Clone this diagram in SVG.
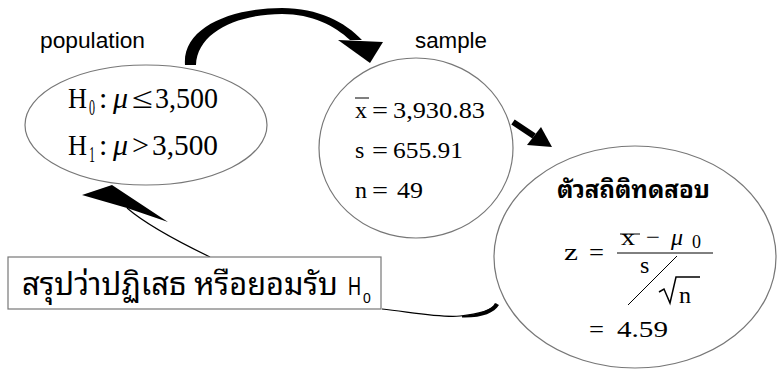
<svg xmlns="http://www.w3.org/2000/svg" width="779" height="371" viewBox="0 0 779 371">
<style>
.node{fill:#fff;stroke:#777;stroke-width:1.2}
.lab{font-family:"Liberation Sans",Arial,sans-serif;font-size:22px;fill:#000}
.m{font-family:"Liberation Serif","Times New Roman",serif;fill:#000}
.th{font-family:"Noto Sans Thai Looped","Loma","Garuda","Norasi","Tlwg Typo","Noto Serif Thai","Noto Sans Thai","Noto Sans",sans-serif;fill:#000}
.blk{fill:#000;stroke:none}
.thin{fill:none;stroke:#000;stroke-width:1.2}
</style>
<rect width="779" height="371" fill="#fff"/>
<g id="connectors">
  <path class="blk" d="M 185 65 C 182 28, 230 8, 282 8 C 318 8, 345 22, 362 40 L 350 40 C 335 26, 312 14, 282 14 C 238 14, 197 32, 196 65 Z"/>
  <polygon class="blk" points="338,40 383,42 370,63"/>
  <line x1="513" y1="122" x2="534" y2="136" stroke="#000" stroke-width="6"/>
  <polygon class="blk" points="527,145 541,127 552,147"/>
  <polygon class="blk" points="82,195 112,185 168,222 127,208"/>
  <path class="thin" d="M 127 208 Q 150 228 210 257"/>
  <path class="thin" d="M 382 309 C 410 312, 440 318, 460 316 C 480 314, 492 310, 497 304"/>
  <path class="blk" d="M 462 316 C 482 314, 492 309, 495 303 L 499 305 C 494 313, 482 318, 462 317.5 Z"/>
</g>
<g id="population">
  <text class="lab" x="40" y="48" textLength="105" lengthAdjust="spacingAndGlyphs">population</text>
  <ellipse class="node" cx="146" cy="125" rx="121" ry="60"/>
  <g class="m" font-size="30">
    <text x="68" y="108" textLength="19" lengthAdjust="spacingAndGlyphs">H</text>
    <text x="89" y="115" font-size="24" textLength="6" lengthAdjust="spacingAndGlyphs">0</text>
    <text x="99" y="108">:</text>
    <text x="113" y="108" font-style="italic">μ</text>
    <text x="132" y="108" textLength="21" lengthAdjust="spacingAndGlyphs">≤</text>
    <text x="155" y="108" textLength="63" lengthAdjust="spacingAndGlyphs">3,500</text>
    <text x="68" y="155" textLength="19" lengthAdjust="spacingAndGlyphs">H</text>
    <text x="89" y="162" font-size="24" textLength="6" lengthAdjust="spacingAndGlyphs">1</text>
    <text x="99" y="155">:</text>
    <text x="113" y="155" font-style="italic">μ</text>
    <text x="132" y="155" textLength="17" lengthAdjust="spacingAndGlyphs">&gt;</text>
    <text x="152" y="155" textLength="66" lengthAdjust="spacingAndGlyphs">3,500</text>
  </g>
</g>
<g id="sample">
  <text class="lab" x="415" y="48" textLength="72" lengthAdjust="spacingAndGlyphs">sample</text>
  <ellipse class="node" cx="416" cy="148" rx="97" ry="90"/>
  <g class="m" font-size="24">
    <text x="355" y="118">x</text>
    <line x1="355" y1="98" x2="369" y2="98" stroke="#000" stroke-width="1"/>
    <text x="372" y="118" textLength="16" lengthAdjust="spacingAndGlyphs">=</text>
    <text x="393" y="118" textLength="92" lengthAdjust="spacingAndGlyphs">3,930.83</text>
    <text x="355" y="158">s</text>
    <text x="372" y="158" textLength="16" lengthAdjust="spacingAndGlyphs">=</text>
    <text x="393" y="158" textLength="70" lengthAdjust="spacingAndGlyphs">655.91</text>
    <text x="355" y="198">n</text>
    <text x="372" y="198" textLength="16" lengthAdjust="spacingAndGlyphs">=</text>
    <text x="397" y="198" textLength="26" lengthAdjust="spacingAndGlyphs">49</text>
  </g>
</g>
<g id="test-statistic">
  <ellipse class="node" cx="635" cy="257" rx="141" ry="111"/>
  <text class="th" x="557" y="198" font-size="25" font-weight="bold" textLength="153" lengthAdjust="spacingAndGlyphs">ตัวสถิติทดสอบ</text>
  <g class="m" font-size="24">
    <text x="564" y="260" textLength="14" lengthAdjust="spacingAndGlyphs">z</text>
    <text x="589" y="260" textLength="15" lengthAdjust="spacingAndGlyphs">=</text>
    <line x1="617" y1="253" x2="713" y2="253" stroke="#000" stroke-width="1"/>
    <text x="621" y="245" textLength="14" lengthAdjust="spacingAndGlyphs">x</text>
    <line x1="620" y1="234" x2="640" y2="234" stroke="#000" stroke-width="1"/>
    <text x="646" y="245" textLength="14" lengthAdjust="spacingAndGlyphs">−</text>
    <text x="671" y="245" font-style="italic">μ</text>
    <text x="692" y="248" font-size="18">0</text>
    <text x="640" y="273">s</text>
    <line x1="628" y1="305" x2="677" y2="256" stroke="#000" stroke-width="1"/>
    <path d="M 659 292 L 664 289 L 670 303 L 676 277 L 700 277" fill="none" stroke="#000" stroke-width="1.5"/>
    <text x="679" y="303">n</text>
    <text x="589" y="337" textLength="15" lengthAdjust="spacingAndGlyphs">=</text>
    <text x="617" y="337" textLength="51" lengthAdjust="spacingAndGlyphs">4.59</text>
  </g>
</g>
<g id="conclusion">
  <rect x="8" y="257" width="373" height="52" fill="#fff" stroke="#777" stroke-width="1.2"/>
  <text class="th" x="22" y="295" font-size="32" textLength="316" lengthAdjust="spacingAndGlyphs">สรุปว่าปฏิเสธ หรือยอมรับ</text>
  <text x="348" y="295" font-family="Liberation Sans,Arial,sans-serif" font-size="25" textLength="13" lengthAdjust="spacingAndGlyphs">H</text>
  <text x="363" y="303" font-family="Liberation Sans,Arial,sans-serif" font-size="14">0</text>
</g>
</svg>
